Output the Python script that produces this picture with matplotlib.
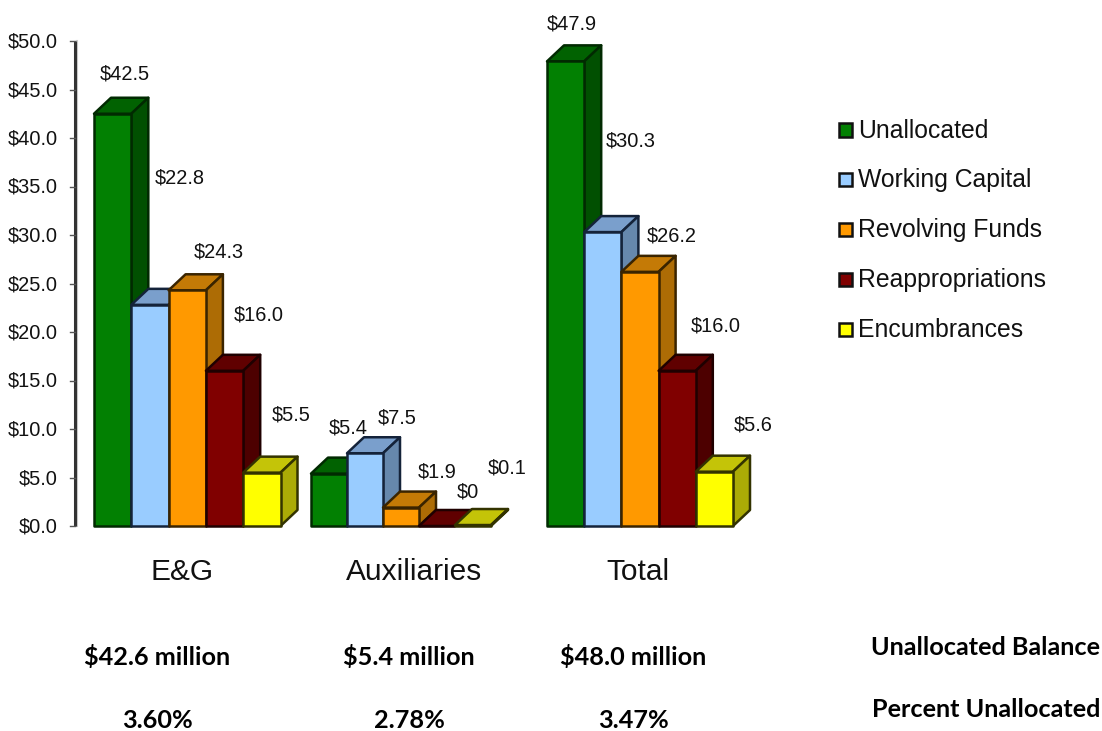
import matplotlib
matplotlib.use("Agg")
import matplotlib.pyplot as plt
from matplotlib.patches import Polygon, Rectangle

plt.rcParams['font.family'] = ['Liberation Sans', 'DejaVu Sans']

# ---- data ----
groups = ['E&G', 'Auxiliaries', 'Total']
series = ['Unallocated', 'Working Capital', 'Revolving Funds', 'Reappropriations', 'Encumbrances']
eg = [42.5, 22.8, 24.3, 16.0, 5.5]
aux = [5.4, 7.5, 1.9, 0.0, 0.1]
total = [47.9, 30.3, 26.2, 16.0, 5.6]
eg_labels = ['$42.5', '$22.8', '$24.3', '$16.0', '$5.5']
aux_labels = ['$5.4', '$7.5', '$1.9', '$0', '$0.1']
total_labels = ['$47.9', '$30.3', '$26.2', '$16.0', '$5.6']
balances = ['$42.6 million', '$5.4 million', '$48.0 million']
percents = ['3.60%', '2.78%', '3.47%']
row_titles = ['Unallocated Balance', 'Percent Unallocated']
yticks = [0, 5, 10, 15, 20, 25, 30, 35, 40, 45, 50]

# ---- style / layout ----
W, H = 1102, 731
front = ['#028002', '#99CCFF', '#FF9900', '#800000', '#FFFF00']
top = ['#016201', '#7A9FCC', '#C47A06', '#600000', '#C4C408']
side = ['#015001', '#6688AD', '#AD6C05', '#4D0000', '#ABAB06']
edges = ['#012a01', '#14233a', '#3a2400', '#1f0000', '#333300']
group_left = [94, 311, 547]
bar_w = [37.3, 36, 37.2]
dx_px, dy_px = 17, 16
axis_x, y0_px, y50_px = 75, 526, 41
label_xy = [
    [(125, 74), (180, 178), (219, 252), (259, 315), (291, 415)],
    [(348, 428), (397, 418), (437, 472), (468, 492), (507, 468)],
    [(572, 24), (631, 141), (672, 236), (716, 326), (753, 425)],
]
summary_x = [157, 409, 633.5]

fig = plt.figure(figsize=(W / 100, H / 100), dpi=100)
ax = fig.add_axes([0, 0, 1, 1])
ax.set_axis_off()
ax.set_xlim(0, W)
ppu = (y0_px - y50_px) / 50.0
ax.set_ylim(-(H - y0_px) / ppu, y0_px / ppu)
dy = dy_px / ppu
LW = 1.8
TXT = '#111111'
BOLD = ['Lato', 'DejaVu Sans']


def ypix(p):
    return (y0_px - p) / ppu


def draw_bar(x, w, v, i):
    ax.add_patch(Polygon([(x, v), (x + dx_px, v + dy), (x + w + dx_px, v + dy), (x + w, v)],
                         fc=top[i], ec=edges[i], lw=LW, joinstyle='round', zorder=3))
    ax.add_patch(Polygon([(x + w, 0), (x + w + dx_px, dy), (x + w + dx_px, v + dy), (x + w, v)],
                         fc=side[i], ec=edges[i], lw=LW, joinstyle='round', zorder=3))
    ax.add_patch(Rectangle((x, 0), w, v, fc=front[i], ec=edges[i], lw=LW, joinstyle='round', zorder=3))


for g, (vals, labs) in enumerate(zip([eg, aux, total], [eg_labels, aux_labels, total_labels])):
    for i, v in enumerate(vals):
        draw_bar(group_left[g] + i * bar_w[g], bar_w[g], v, i)
        px, py = label_xy[g][i]
        ax.text(px, ypix(py), labs[i], ha='center', va='center', fontsize=14.4, color=TXT, zorder=5)

# y axis
ax.plot([axis_x + 1.5, axis_x + 1.5], [0, 50], color='#cccccc', lw=1.5, zorder=1)
ax.plot([axis_x, axis_x], [0, 50], color='#333333', lw=2.2, solid_capstyle='butt', zorder=2)
for t in yticks:
    ax.plot([axis_x - 5, axis_x], [t, t], color='#555555', lw=1, zorder=2)
    ax.text(58, t - 1 / ppu, f'${t:.1f}', ha='right', va='center', fontsize=14.4, color=TXT)

# group names
for name, cx in zip(groups, [182, 414, 638]):
    ax.text(cx, ypix(572), name, ha='center', va='center', fontsize=21.5, color=TXT)

# legend
for i, name in enumerate(series):
    py = 130 + i * 49.9
    ax.add_patch(Rectangle((839, ypix(py + 6.5)), 13, 13 / ppu, fc=front[i], ec='#111111', lw=1.8, zorder=3))
    ax.text(858, ypix(py + 0.5), name, ha='left', va='center', fontsize=17.8, color=TXT)

# summary rows
for txt, cx in zip(balances, summary_x):
    ax.text(cx, ypix(665), txt, ha='center', va='baseline', fontsize=18.2,
            fontweight='bold', family=BOLD, color='black')
for txt, cx in zip(percents, summary_x):
    ax.text(cx, ypix(728), txt, ha='center', va='baseline', fontsize=18.2,
            fontweight='bold', family=BOLD, color='black')
for txt, py in zip(row_titles, [655, 717]):
    ax.text(1100, ypix(py), txt, ha='right', va='baseline', fontsize=18.2,
            fontweight='bold', family=BOLD, color='black')

fig.savefig('out.png', dpi=100, facecolor='white')
